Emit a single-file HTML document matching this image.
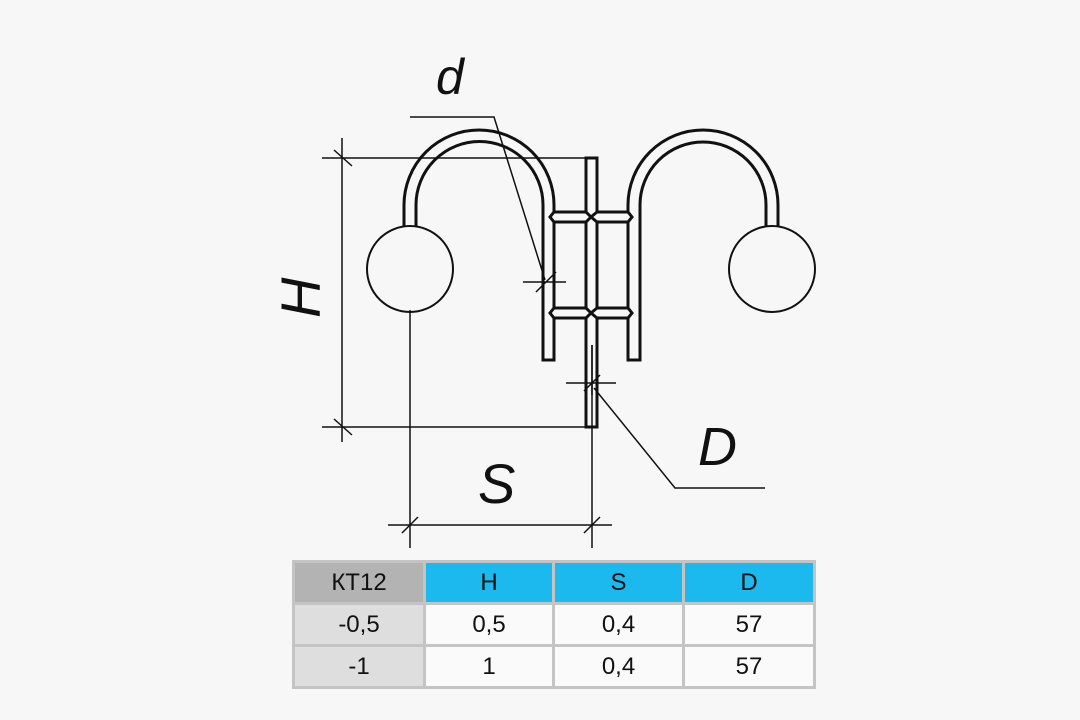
<!DOCTYPE html>
<html><head><meta charset="utf-8"><style>
html,body{margin:0;padding:0;background:#f7f7f7;width:1080px;height:720px;overflow:hidden;font-family:"Liberation Sans",sans-serif}
svg{position:absolute;left:0;top:0}
table{position:absolute;left:292px;top:560px;border-collapse:collapse;background:#c4c4c4}
td{border:3px solid #c4c4c4;text-align:center;font-size:24px;color:#111;height:39px;padding:0;background:#fafafa}
</style></head><body>
<svg width="1080" height="720" viewBox="0 0 1080 720">
<g fill="none" stroke="#111" stroke-width="3">
<path d="M404,226 L404,205 A75,75 0 0 1 554,205 L554,360 L543,360 L543,205 A63,63 0 0 0 416,205 L416,226"/>
<path d="M778,226 L778,205 A75,75 0 0 0 628,205 L628,360 L640,360 L640,205 A63,63 0 0 1 766,205 L766,226"/>
<rect x="586" y="158" width="11" height="269"/>
<path d="M554,212 L586,212 L591,217 L597,212 L628,212 L632,217 L628,222 L597,222 L591,217 L586,222 L554,222 L550,217 Z" fill="#f7f7f7"/>
<path d="M554,308 L586,308 L591,313 L597,308 L628,308 L632,313 L628,318 L597,318 L591,313 L586,318 L554,318 L550,313 Z" fill="#f7f7f7"/>
<circle cx="410" cy="269" r="43" stroke-width="2"/>
<circle cx="772" cy="269" r="43" stroke-width="2"/>
</g>
<g fill="none" stroke="#111" stroke-width="1.5">
<path d="M342,138 L342,442 M322,158 L590,158 M322,427 L590,427"/>
<path d="M334,150 L352,166 M334,419 L352,435"/>
<path d="M410,310 L410,548 M592,345 L592,548 M388,525 L612,525"/>
<path d="M402,533 L418,517 M584,533 L600,517"/>
<path d="M410,117 L494,117 L545,280 M523,282 L566,282 M536,292 L556,272"/>
<path d="M592,345 L592,395 M566,383 L616,383 M584,391 L600,375 M594,388 L675,488 L765,488"/>
</g>
<g font-family="Liberation Sans,sans-serif" font-style="italic" fill="#111" font-size="58">
<text x="436" y="94" font-size="50">d</text>
<text x="698" y="465" font-size="54">D</text>
<text x="478" y="503" font-size="56">S</text>
<text transform="translate(320,318) rotate(-90)" font-size="56">H</text>
</g>
</svg>
<table>
<tr><td style="width:128px;background:#b3b3b3">КТ12</td><td style="width:126px;background:#1bb9ed">H</td><td style="width:127px;background:#1bb9ed">S</td><td style="width:128px;background:#1bb9ed">D</td></tr>
<tr><td style="background:#dedede">-0,5</td><td>0,5</td><td>0,4</td><td>57</td></tr>
<tr><td style="background:#dedede">-1</td><td>1</td><td>0,4</td><td>57</td></tr>
</table>
</body></html>
